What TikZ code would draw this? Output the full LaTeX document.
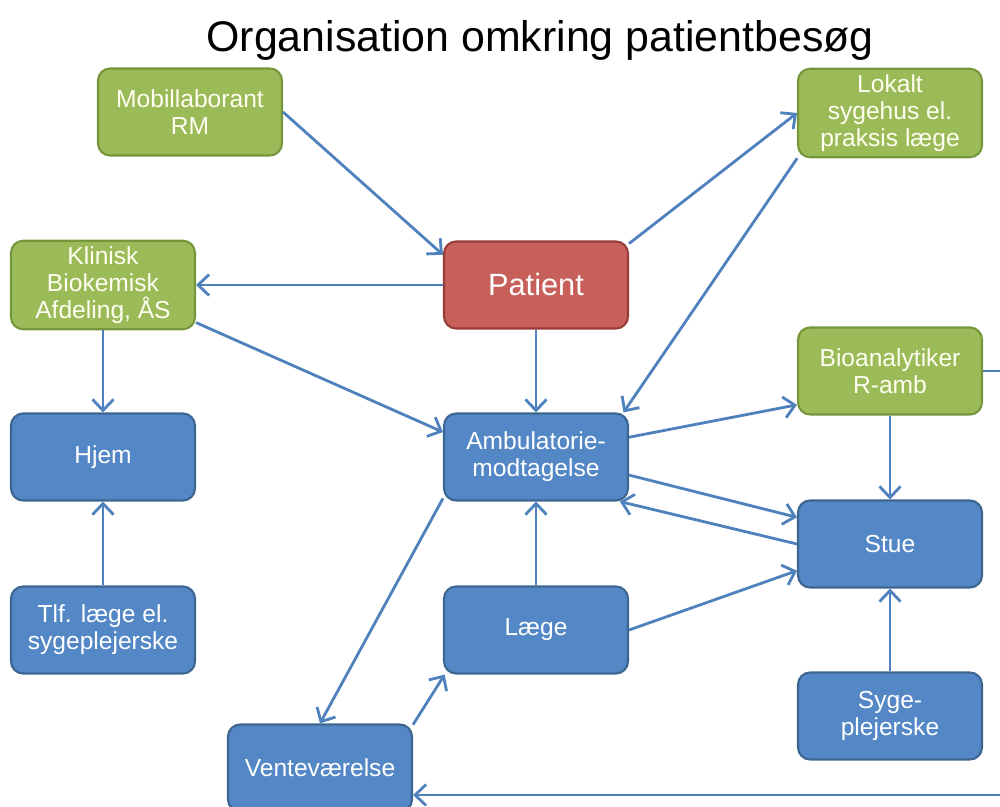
\documentclass[tikz,border=0pt]{standalone}
\usepackage{fontspec}
\setmainfont{Liberation Sans}
\usetikzlibrary{arrows.meta}
\definecolor{linkblue}{HTML}{4F81BD}
\definecolor{boxblue}{HTML}{5387C5}
\definecolor{rimblue}{HTML}{3D6592}
\definecolor{boxgreen}{HTML}{9BBB59}
\definecolor{rimgreen}{HTML}{76963C}
\definecolor{boxred}{HTML}{C75F5A}
\definecolor{rimred}{HTML}{973C38}
\tikzset{
  box/.style={rectangle, rounded corners=0.24cm, line width=1.2pt, minimum width=3.68cm,
    minimum height=1.74cm, align=center, font=\fontsize{14}{15.3}\selectfont},
  bluebox/.style={box, fill=boxblue, draw=rimblue, text=white},
  greenbox/.style={box, fill=boxgreen, draw=rimgreen, text=white!94!yellow},
  redbox/.style={box, fill=boxred, draw=rimred, text=white, font=\fontsize{17.5}{20}\selectfont}
}
\begin{document}
\begin{tikzpicture}[x=0.02cm, y=-0.02cm,
    every edge/.style={draw=linkblue, line width=1.6pt, -{Straight Barb[length=2.2mm, width=4.2mm]}}]
		\useasboundingbox (0,0) rectangle (1000,807);
		\node (title) at (540,40) {\fontsize{24.4}{28}\selectfont Organisation omkring patientbesøg};
		\node[greenbox] (mob) at (190,112) {Mobillaborant\\RM};
		\node[greenbox] (lok) at (890,113) {Lokalt\\sygehus el.\\praksis læge};
		\node[greenbox] (kli) at (103,285) {Klinisk\\Biokemisk\\Afdeling, ÅS};
		\node[redbox] (pat) at (536,285) {Patient};
		\node[greenbox] (bio) at (890,371) {Bioanalytiker\\R-amb};
		\node[bluebox] (hjem) at (103,457) {Hjem};
		\node[bluebox] (amb) at (536,457) {Ambulatorie-\\modtagelse};
		\node[bluebox] (stue) at (890,544) {Stue};
		\node[bluebox] (tlf) at (103,630) {Tlf. læge el.\\sygeplejerske};
		\node[bluebox] (laege) at (536,630) {Læge};
		\node[bluebox] (syg) at (890,716) {Syge-\\plejerske};
		\node[bluebox] (vent) at (320,768) {Venteværelse};
		\coordinate (edge1) at (1010,371);
		\coordinate (edge2) at (1010,795);
		\path (mob.east) edge (pat.162);
		\path (pat.24) edge (lok.west);
		\path (lok.206) edge (amb.27);
		\path (pat.west) edge (kli.east);
		\path (kli.south) edge (hjem.north);
		\path (kli.-22) edge (amb.165);
		\path (pat.south) edge (amb.north);
		\path (amb.12) edge (bio.200);
		\path (amb.-11) edge (stue.164);
		\path (stue.west) edge (amb.-28);
		\path (bio.south) edge (stue.north);
		\path (tlf.north) edge (hjem.south);
		\path (laege.north) edge (amb.south);
		\path (laege.east) edge (stue.196);
		\path (amb.204) edge (vent.north);
		\path (vent.25) edge (laege.206);
		\path (syg.north) edge (stue.south);
		\draw[linkblue, line width=1.6pt] (bio.east) -- (edge1);
		\path (edge2) edge (edge2 -| vent.east);
	\end{tikzpicture}
\end{document}
